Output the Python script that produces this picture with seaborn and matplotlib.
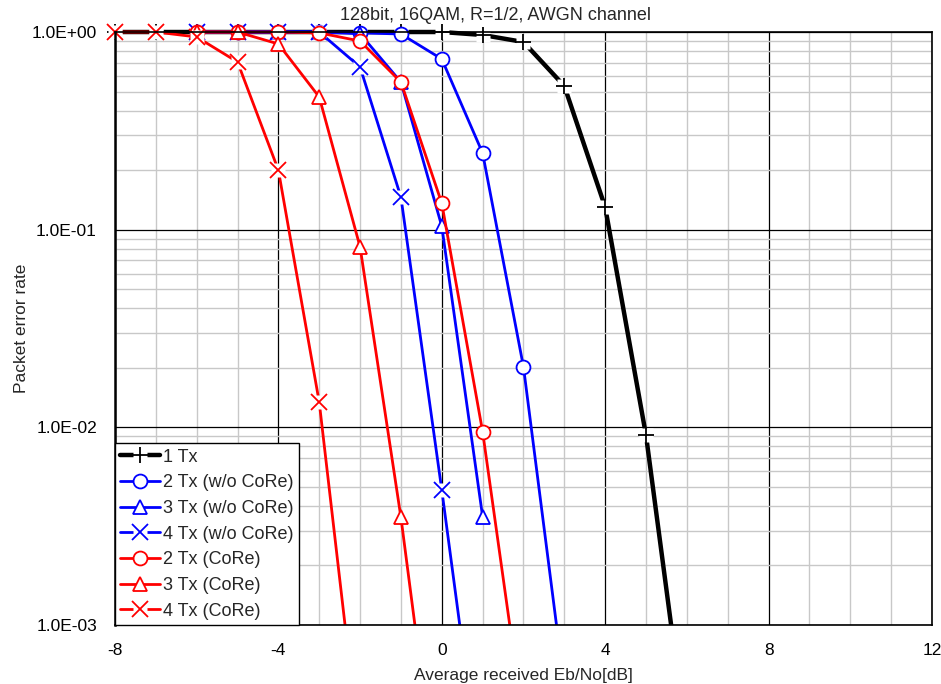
import matplotlib
matplotlib.use("Agg")
import matplotlib.pyplot as plt
import matplotlib.ticker as mticker
from matplotlib.lines import Line2D
from matplotlib.patches import Rectangle
from matplotlib.legend_handler import HandlerTuple
import numpy as np
import pandas as pd
import seaborn as sns

# 数据
snr_1tx = [-8, -7, -6, -5, -4, -3, -2, -1, 0, 1, 2, 3, 4, 5, 6]
per_1tx = [1.0, 1.0, 1.0, 1.0, 1.0, 1.0, 1.0, 1.0, 1.0, 0.966, 0.89, 0.533, 0.130, 0.0091, 0.00025]

snr_2tx = [-6, -5, -4, -3, -2, -1, 0, 1, 2, 3]
per_2tx = [1.0, 1.0, 1.0, 1.0, 0.99, 0.977, 0.73, 0.244, 0.0202, 0.00049]

snr_3tx = [-6, -5, -4, -3, -2, -1, 0, 1]
per_3tx = [1.0, 1.0, 1.0, 1.0, 0.98, 0.558, 0.104, 0.00353]

snr_4tx = [-6, -5, -4, -3, -2, -1, 0, 1]
per_4tx = [1.0, 1.0, 1.0, 1.0, 0.665, 0.146, 0.00482, 0.000135]

snr_2tx_core = [-6, -5, -4, -3, -2, -1, 0, 1, 2]
per_2tx_core = [1.0, 1.0, 1.0, 0.99, 0.90, 0.558, 0.136, 0.0095, 0.00032]

snr_3tx_core = [-6, -5, -4, -3, -2, -1, 0]
per_3tx_core = [1.0, 1.0, 0.87, 0.469, 0.0817, 0.0035, 0.00009]

snr_4tx_core = [-8, -7, -6, -5, -4, -3, -2]
per_4tx_core = [1.0, 1.0, 0.944, 0.705, 0.2, 0.0134, 0.00022]

series = [
    ("1 Tx", snr_1tx, per_1tx, "black", "+", 3.2),
    ("2 Tx (w/o CoRe)", snr_2tx, per_2tx, "#0000ff", "o", 2.0),
    ("3 Tx (w/o CoRe)", snr_3tx, per_3tx, "#0000ff", "^", 2.0),
    ("4 Tx (w/o CoRe)", snr_4tx, per_4tx, "#0000ff", "x", 2.0),
    ("2 Tx (CoRe)", snr_2tx_core, per_2tx_core, "#ff0000", "o", 2.0),
    ("3 Tx (CoRe)", snr_3tx_core, per_3tx_core, "#ff0000", "^", 2.0),
    ("4 Tx (CoRe)", snr_4tx_core, per_4tx_core, "#ff0000", "x", 2.0),
]

sns.set_style("white")
plt.rcParams['font.family'] = ['Liberation Sans', 'DejaVu Sans']

fig = plt.figure(figsize=(9.41, 6.84), dpi=100)
ax = fig.add_axes([0.1222, 0.0863, 0.8682, 0.8669])

ms = 10
handles = []
for name, xs, ys, col, mk, lw in series:
    df = pd.DataFrame({"snr": xs, "per": ys})
    if mk in ("o", "^"):
        sns.lineplot(data=df, x="snr", y="per", color=col, linewidth=lw, marker=mk,
                     markersize=ms, markerfacecolor="white", markeredgecolor=col,
                     markeredgewidth=1.3, ax=ax, estimator=None, sort=False)
        handles.append(Line2D([], [], color=col, lw=lw, marker=mk, markersize=ms,
                              markerfacecolor="white", markeredgecolor=col, markeredgewidth=1.3))
    else:
        sns.lineplot(data=df, x="snr", y="per", color=col, linewidth=lw, ax=ax,
                     estimator=None, sort=False)
        ax.plot(xs, ys, ls="none", marker="s", markersize=ms * 0.95, markerfacecolor="white",
                markeredgecolor="none")
        ax.plot(xs, ys, ls="none", marker=mk, markersize=ms + 1, color=col, markeredgewidth=1.3)
        handles.append((Line2D([], [], color=col, lw=lw),
                        Line2D([], [], ls="none", marker="s", markersize=ms * 0.95,
                               markerfacecolor="white", markeredgecolor="none"),
                        Line2D([], [], ls="none", marker=mk, markersize=ms + 1, color=col,
                               markeredgewidth=1.3)))

# 允许顶部的标记超出坐标区，底部仍然裁剪
clip = Rectangle((-0.03, 0.0), 1.06, 1.1, transform=ax.transAxes)
for ln in ax.lines:
    ln.set_clip_path(clip)

ax.set_yscale("log")
ax.set_xlim(-8, 12)
ax.set_ylim(1e-3, 1.0)
ax.xaxis.set_major_locator(mticker.MultipleLocator(4))
ax.xaxis.set_minor_locator(mticker.MultipleLocator(1))
ax.yaxis.set_major_locator(mticker.LogLocator(base=10, numticks=10))
ax.yaxis.set_minor_locator(mticker.LogLocator(base=10, subs=np.arange(2, 10), numticks=10))
ax.yaxis.set_major_formatter(mticker.FuncFormatter(lambda v, p: f"{v:.1E}"))
ax.yaxis.set_minor_formatter(mticker.NullFormatter())
ax.xaxis.set_major_formatter(mticker.FuncFormatter(lambda v, p: f"{v:g}"))

ax.grid(which="minor", color="#c8c8c8", linewidth=1.0)
ax.grid(which="major", color="black", linewidth=0.9)
ax.set_axisbelow(True)
ax.tick_params(which="both", direction="in", labelsize=12.5, colors="black")
ax.tick_params(axis="y", which="major", length=0, pad=13)
ax.tick_params(axis="x", which="major", length=0, pad=13)
ax.tick_params(which="minor", length=5, width=1)
for s in ax.spines.values():
    s.set_color("black")
    s.set_linewidth(1.2)
ax.spines["left"].set_linewidth(1.8)

ax.set_xlabel("Average received Eb/No[dB]", fontsize=12.5, labelpad=7)
ax.set_ylabel("Packet error rate", fontsize=12.5, labelpad=2)
fig.text(496 / 941, 1 - 15 / 684, "128bit, 16QAM, R=1/2, AWGN channel", fontsize=13,
         ha="center", va="center")

leg = ax.legend(handles, [s[0] for s in series], loc="lower left", fontsize=13,
                handler_map={tuple: HandlerTuple(ndivide=1)}, handlelength=2.2,
                borderaxespad=0, frameon=True, fancybox=False, labelspacing=0.48,
                handletextpad=0.15, borderpad=0.3, framealpha=1)
leg.get_frame().set_edgecolor("black")
leg.get_frame().set_linewidth(1.0)

fig.savefig("out.png", dpi=100)
